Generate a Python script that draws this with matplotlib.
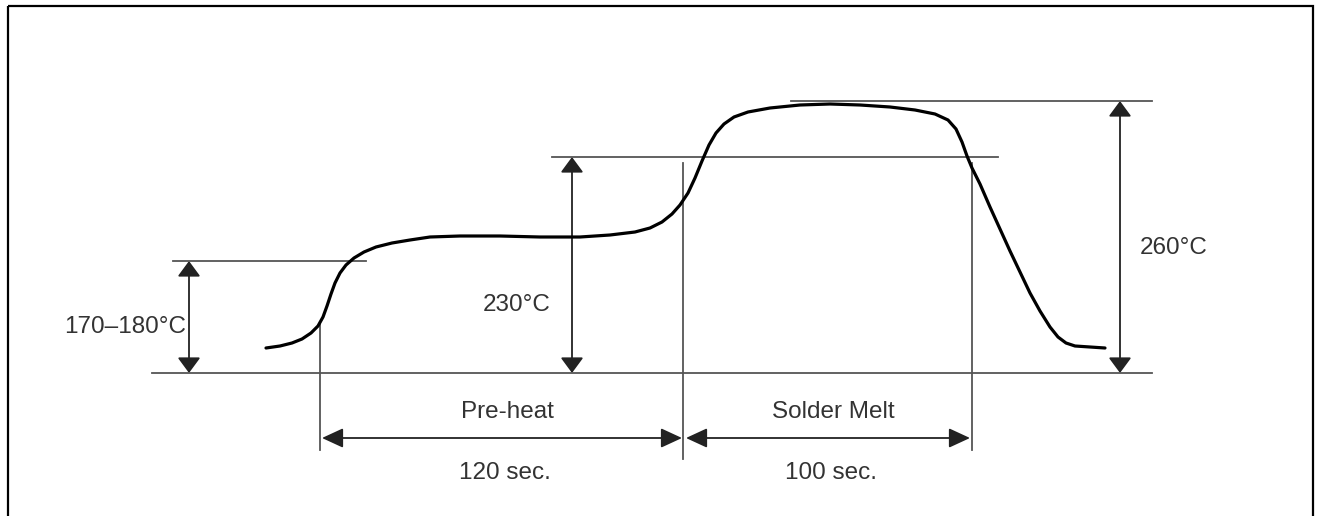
#plot.py

import matplotlib
matplotlib.use('Agg')
import matplotlib.pyplot as plt
from matplotlib.patches import FancyArrowPatch, Rectangle

# Profile curve (x, y in picture pixels, y down)
curve_x = [266, 280, 292, 302, 311, 318, 323, 327, 331, 335, 340, 346, 354, 364, 376, 392, 410, 430,
           460, 500, 540, 580, 610, 635, 650, 662, 672, 680, 688, 695, 702, 709, 716, 724, 734, 748,
           770, 800, 830, 860, 890, 915, 935, 948, 956, 962, 967, 972, 980, 990, 1000, 1010, 1020,
           1030, 1040, 1050, 1058, 1066, 1075, 1090, 1105]
curve_y = [348, 346, 343, 339, 333, 326, 317, 306, 294, 283, 273, 265, 258, 252, 247, 243, 240, 237,
           236, 236, 237, 237, 235, 232, 228, 222, 214, 205, 193, 178, 161, 145, 133, 124, 117, 112,
           108, 105, 104, 105, 107, 110, 114, 120, 129, 142, 156, 168, 184, 207, 229, 251, 272,
           293, 311, 327, 337, 343, 346, 347, 348]

# Temperature levels (horizontal guide lines): y, x start, x end
level_y = [373, 261, 157, 101]
level_x0 = [152, 173, 552, 791]
level_x1 = [1152, 366, 998, 1152]

# Vertical arrows for temperatures
temp_labels = ['170\u2013180\u00b0C', '230\u00b0C', '260\u00b0C']
temp_arrow_x = [189, 572, 1120]
temp_arrow_top = [261, 157, 101]
temp_label_xy = [(125, 327), (517, 305), (1174, 248)]

# Time markers (vertical lines): x, y top, y bottom
mark_x = [320, 683, 972]
mark_y0 = [323, 163, 163]
mark_y1 = [450, 459, 450]

# Time spans
span_names = ['Pre-heat', 'Solder Melt']
span_times = ['120 sec.', '100 sec.']
span_x0 = [322, 686]
span_x1 = [682, 970]

base_y = 373
span_y = 438

grey = '#555555'
txt = '#333333'

fig = plt.figure(figsize=(13.19, 5.16), dpi=100)
ax = fig.add_axes([0, 0, 1, 1])
ax.set_xlim(0, 1319)
ax.set_ylim(516, 0)
ax.axis('off')

# frame
ax.add_patch(Rectangle((8, 6), 1305, 530, fill=False, edgecolor='black', linewidth=1.6))

for y, x0, x1 in zip(level_y, level_x0, level_x1):
    ax.plot([x0, x1], [y, y], color=grey, linewidth=1.3)

for x, y0, y1 in zip(mark_x, mark_y0, mark_y1):
    ax.plot([x, x], [y0, y1], color=grey, linewidth=1.3)

for lab, x, top, (tx, ty) in zip(temp_labels, temp_arrow_x, temp_arrow_top, temp_label_xy):
    arr = FancyArrowPatch((x, base_y), (x, top), arrowstyle='<|-|>,head_length=9.5,head_width=7',
                          mutation_scale=1, shrinkA=0, shrinkB=0, color='#222222', linewidth=1.3)
    ax.add_patch(arr)
    ax.text(tx, ty, lab, ha='center', va='center', fontsize=17.5, color=txt,
            family='Liberation Sans')

for name, t, x0, x1 in zip(span_names, span_times, span_x0, span_x1):
    arr = FancyArrowPatch((x0, span_y), (x1, span_y), arrowstyle='<|-|>,head_length=13,head_width=6',
                          mutation_scale=1, shrinkA=0, shrinkB=0, color='#222222', linewidth=1.3)
    ax.add_patch(arr)
    xc = (x0 + x1) / 2
    ax.text(xc + 5, 412, name, ha='center', va='center', fontsize=17.5, color=txt,
            family='Liberation Sans')
    ax.text(xc + 3, 473, t, ha='center', va='center', fontsize=17.5, color=txt,
            family='Liberation Sans')

ax.plot(curve_x, curve_y, color='black', linewidth=2.3, solid_joinstyle='round', solid_capstyle='round')

fig.savefig('out.png', dpi=100)
